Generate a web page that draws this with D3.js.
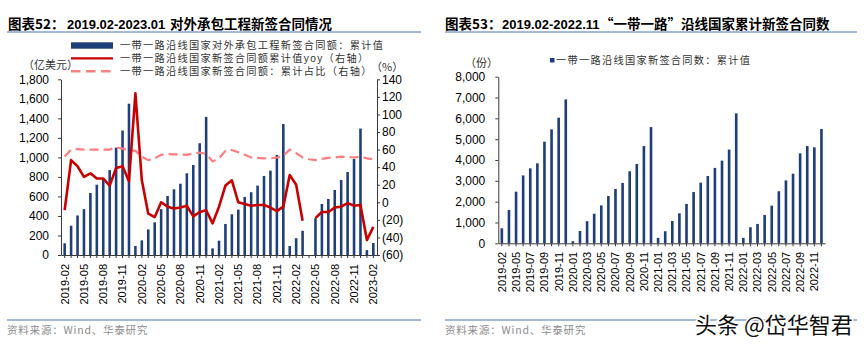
<!DOCTYPE html>
<html>
<head>
<meta charset="utf-8">
<script src="https://cdn.jsdelivr.net/npm/d3@7"></script>
<style>
  body { margin: 0; background: #fff; }
  svg text { font-family: "Liberation Sans", Arial, "Noto Sans CJK SC", sans-serif; }
  .cn { font-family: "Noto Sans CJK SC", "Liberation Sans", sans-serif; }
</style>
</head>
<body>
<svg id="chart" width="865" height="347"></svg>
<script>
// Left panel: contracted value of overseas projects, monthly cumulative
var leftMonths = [
    "2019-02", "2019-03", "2019-04", "2019-05", "2019-06", "2019-07", "2019-08", "2019-09", "2019-10", "2019-11", "2019-12",
    "2020-01", "2020-02", "2020-03", "2020-04", "2020-05", "2020-06", "2020-07", "2020-08", "2020-09", "2020-10", "2020-11", "2020-12",
    "2021-01", "2021-02", "2021-03", "2021-04", "2021-05", "2021-06", "2021-07", "2021-08", "2021-09", "2021-10", "2021-11", "2021-12",
    "2022-01", "2022-02", "2022-03", "2022-04", "2022-05", "2022-06", "2022-07", "2022-08", "2022-09", "2022-10", "2022-11", "2022-12",
    "2023-01", "2023-02"
];
// 亿美元, cumulative
var leftContract = [
    120, 300, 405, 470, 635, 720, 785, 870, 1100, 1275, 1550,
    92, 150, 262, 335, 470, 605, 673, 730, 837, 922, 1145, 1415,
    68, 147, 318, 417, 465, 595, 643, 711, 810, 864, 1025, 1342,
    92, 172, 248, null, 376, 523, 574, 666, 768, 850, 984, 1295,
    50, 123
];
// yoy of the cumulative value, %
var leftYoy = [
    -9, 48, 41, 29, 33, 27, 27, 19, 39, 41, 24,
    124, 25, -13, -17, 0, -5, -7, -6, -4, -16, -11, -9,
    -24, -5, 19, 25, 0, -2, -4, -3, -3, -6, -10, -5,
    31, 20, -21, null, -18, -11, -11, -6, -5, -1, -4, -3,
    -43, -28
];
// share of total, %
var leftShare = [
    52, 60, 60.5, 60, 60, 60, 60, 60, 62.5, 61, 59.5,
    58.5, 52, 48, 50, 54, 55, 54.5, 54.5, 54, 55.5, 56.5, 55,
    46.5, 50, 58.5, 59.5, 57, 54, 51, 50.5, 50, 50, 51, 53,
    60, 56, 51, 49, 48, 49.5, 50.5, 51, 52, 51.5, 51, 52,
    50, 49
];
var leftYTicks = [0, 200, 400, 600, 800, 1000, 1200, 1400, 1600, 1800];
var leftRTicks = [-60, -40, -20, 0, 20, 40, 60, 80, 100, 120, 140];

// Right panel: number of newly signed contracts, cumulative
var rightMonths = [
    "2019-02", "2019-03", "2019-05", "2019-06", "2019-07", "2019-08", "2019-09", "2019-10", "2019-11", "2019-12",
    "2020-01", "2020-02", "2020-03", "2020-04", "2020-05", "2020-06", "2020-07", "2020-08", "2020-09", "2020-10", "2020-11", "2020-12",
    "2021-01", "2021-02", "2021-03", "2021-04", "2021-05", "2021-06", "2021-07", "2021-08", "2021-09", "2021-10", "2021-11", "2021-12",
    "2022-01", "2022-02", "2022-03", "2022-04", "2022-05", "2022-06", "2022-07", "2022-08", "2022-09", "2022-10", "2022-11", "2022-12"
];
var rightCount = [
    720, 1600, 2480, 3260, 3600, 3840, 4880, 5470, 6030, 6910,
    100, 590, 1060, 1420, 1820, 2270, 2610, 2900, 3460, 3810, 4670, 5580,
    260, 580, 1070, 1440, 1890, 2460, 2910, 3230, 3620, 3970, 4500, 6240,
    260, 770, 930, 1360, 1810, 2500, 3020, 3340, 4320, 4670, 4610, 5490
];
var rightYTicks = [0, 1000, 2000, 3000, 4000, 5000, 6000, 7000, 8000];

var navy = "#1f3f7a";
var red = "#c80000";
var pink = "#ff7f80";
var rule = "#4a72b0";
var axisColor = "#3a3a3a";

var svg = d3.select("#chart");
svg.append("rect").attr("width", 865).attr("height", 347).attr("fill", "#fff");

function styleAxis(g, size) {
    g.attr("font-family", "'Liberation Sans', Arial, sans-serif")
        .attr("font-size", size)
        .attr("color", "#000");
    g.selectAll("path, line").attr("stroke", axisColor);
}

function rotateLabels(g, gap) {
    g.selectAll("text")
        .attr("transform", "rotate(-90)")
        .attr("text-anchor", "end")
        .attr("x", -gap)
        .attr("y", 0)
        .attr("dy", "0.35em");
}

// title row: [x, text, cjk?, size]
function header(x, lineEnd, parts) {
    var t = svg.append("text")
        .attr("y", 28.5)
        .attr("font-weight", "bold")
        .attr("fill", "#000");
    parts.forEach(function (p) {
        t.append("tspan")
            .attr("x", p[0])
            .attr("class", p[2] ? "cn" : null)
            .attr("font-size", p[3])
            .text(p[1]);
    });
    svg.append("line")
        .attr("x1", x).attr("x2", lineEnd)
        .attr("y1", 32).attr("y2", 32)
        .attr("stroke", rule).attr("stroke-width", 1);
}

function footer(x, lineEnd) {
    svg.append("line")
        .attr("x1", x).attr("x2", lineEnd)
        .attr("y1", 320).attr("y2", 320)
        .attr("stroke", rule).attr("stroke-width", 1);
    svg.append("text")
        .attr("class", "cn")
        .attr("x", x)
        .attr("y", 334)
        .attr("font-size", 10.5)
        .attr("letter-spacing", 0.8)
        .attr("fill", "#8c8c8c")
        .text("资料来源：Wind、华泰研究");
}

// legend lines sit close together, so keep the Latin face first for tighter line boxes
function legendText(sel) {
    return sel.attr("dy", "0.36em")
        .attr("font-size", 10.2)
        .attr("letter-spacing", 1.3)
        .attr("fill", "#333");
}

// ---------- left panel ----------
header(7, 421, [[8, "图表52：", true, 13.5], [67, "2019.02-2023.01", false, 13], [170, "对外承包工程新签合同情况", true, 13.5]]);

var lx = d3.scaleBand()
    .domain(leftMonths)
    .range([61, 377])
    .paddingInner(0.6)
    .paddingOuter(0.37);
var ly = d3.scaleLinear().domain([0, 1800]).range([255, 79.3]);
var lyR = d3.scaleLinear().domain([-60, 140]).range([255, 79.3]);

var leftRows = leftMonths.map(function (m, i) {
    return { month: m, value: leftContract[i], yoy: leftYoy[i], share: leftShare[i] };
});

svg.append("g").selectAll("rect")
    .data(leftRows.filter(d => d.value != null))
    .enter().append("rect")
    .attr("x", d => lx(d.month))
    .attr("width", lx.bandwidth())
    .attr("y", d => ly(d.value))
    .attr("height", d => ly(0) - ly(d.value))
    .attr("fill", navy);

var mid = d => lx(d.month) + lx.bandwidth() / 2;

svg.append("path")
    .datum(leftRows)
    .attr("fill", "none")
    .attr("stroke", pink)
    .attr("stroke-width", 2.2)
    .attr("stroke-dasharray", "9,5")
    .attr("d", d3.line().defined(d => d.share != null).x(mid).y(d => lyR(d.share)));

svg.append("path")
    .datum(leftRows)
    .attr("fill", "none")
    .attr("stroke", red)
    .attr("stroke-width", 2.6)
    .attr("stroke-linejoin", "round")
    .attr("d", d3.line().defined(d => d.yoy != null).x(mid).y(d => lyR(d.yoy)));

var lAxisY = svg.append("g")
    .attr("transform", "translate(61,0)")
    .call(d3.axisLeft(ly).tickValues(leftYTicks).tickSize(3).tickSizeOuter(0).tickPadding(9).tickFormat(d3.format(",")));
styleAxis(lAxisY, 12);

var lAxisR = svg.append("g")
    .attr("transform", "translate(377,0)")
    .call(d3.axisRight(lyR).tickValues(leftRTicks).tickSize(3).tickSizeOuter(0).tickPadding(2)
        .tickFormat(d => d < 0 ? "(" + (-d) + ")" : d));
styleAxis(lAxisR, 12);

var lAxisX = svg.append("g")
    .attr("transform", "translate(0,255)")
    .call(d3.axisBottom(lx).tickSize(3).tickSizeOuter(0)
        .tickFormat((d, i) => i % 3 == 0 ? d : ""));
styleAxis(lAxisX, 11);
rotateLabels(lAxisX, 9);

// unit labels
svg.append("text").attr("class", "cn").attr("x", 23).attr("y", 69)
    .attr("font-size", 11).attr("fill", "#333").text("（亿美元）");
svg.append("text").attr("class", "cn").attr("x", 371).attr("y", 71)
    .attr("font-size", 11).attr("fill", "#333").text("（%）");

// legend
var leftLegend = [
    { kind: "bar", y: 45.5, label: "一带一路沿线国家对外承包工程新签合同额：累计值" },
    { kind: "line", y: 58.3, label: "一带一路沿线国家新签合同额累计值yoy（右轴）" },
    { kind: "dash", y: 71.2, label: "一带一路沿线国家新签合同额：累计占比（右轴）" }
];
var lg = svg.append("g").selectAll("g")
    .data(leftLegend)
    .enter().append("g")
    .attr("transform", d => "translate(71," + d.y + ")");
lg.filter(d => d.kind == "bar").append("rect")
    .attr("x", 0).attr("y", -3.2).attr("width", 42).attr("height", 6.4).attr("fill", navy);
lg.filter(d => d.kind == "line").append("line")
    .attr("x1", 0).attr("x2", 42).attr("stroke", red).attr("stroke-width", 2.2);
lg.filter(d => d.kind == "dash").append("line")
    .attr("x1", 0).attr("x2", 42).attr("stroke", pink).attr("stroke-width", 2.4)
    .attr("stroke-dasharray", "9.5,5.5");
legendText(lg.append("text").attr("x", 49)).text(d => d.label);

footer(7, 421);

// ---------- right panel ----------
header(445, 857, [[445, "图表53：", true, 13.5], [502, "2019.02-2022.11", false, 13], [600, "“一带一路”沿线国家累计新签合同数", true, 13.5]]);

var rx = d3.scaleBand()
    .domain(rightMonths)
    .range([498.3, 825])
    .paddingInner(0.63)
    .paddingOuter(0.315);
var ry = d3.scaleLinear().domain([0, 8000]).range([243.3, 76.7]);

svg.append("g").selectAll("rect")
    .data(rightMonths.map((m, i) => ({ month: m, value: rightCount[i] })))
    .enter().append("rect")
    .attr("x", d => rx(d.month))
    .attr("width", rx.bandwidth())
    .attr("y", d => ry(d.value))
    .attr("height", d => ry(0) - ry(d.value))
    .attr("fill", navy);

var rAxisY = svg.append("g")
    .attr("transform", "translate(498.3,0)")
    .call(d3.axisLeft(ry).tickValues(rightYTicks).tickSize(3).tickSizeOuter(0).tickPadding(10).tickFormat(d3.format(",")));
styleAxis(rAxisY, 12);

var rAxisX = svg.append("g")
    .attr("transform", "translate(0,243.3)")
    .call(d3.axisBottom(rx).tickSize(3).tickSizeOuter(0)
        .tickFormat((d, i) => i % 2 == 0 ? d : ""));
styleAxis(rAxisX, 11);
rotateLabels(rAxisX, 8.5);

svg.append("text").attr("class", "cn").attr("x", 465).attr("y", 67)
    .attr("font-size", 11).attr("fill", "#333").text("（份）");

svg.append("rect").attr("x", 550).attr("y", 58).attr("width", 4.5).attr("height", 4.5).attr("fill", navy);
legendText(svg.append("text").attr("x", 556).attr("y", 60.5))
    .text("一带一路沿线国家新签合同数：累计值");

footer(445, 857);

// watermark
svg.append("text")
    .attr("class", "cn")
    .attr("x", 695)
    .attr("y", 333)
    .attr("font-size", 22)
    .attr("fill", "#111")
    .attr("stroke", "#fff")
    .attr("stroke-width", 3)
    .attr("paint-order", "stroke")
    .text("头条 @岱华智君");
</script>
</body>
</html>
